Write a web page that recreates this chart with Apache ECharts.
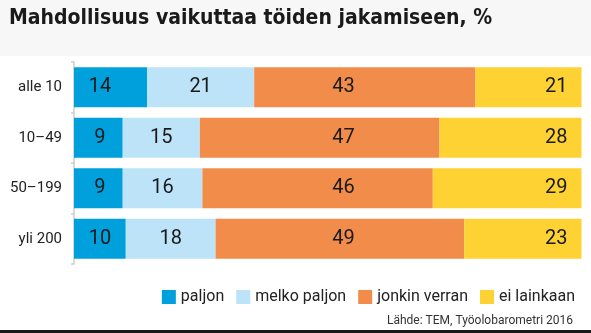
<!DOCTYPE html>
<html>
<head>
<meta charset="utf-8">
<script src="https://cdn.jsdelivr.net/npm/echarts@6/dist/echarts.min.js"></script>
<style>
  html, body { margin: 0; padding: 0; background: #ffffff; }
  #chart { width: 591px; height: 333px; }
</style>
</head>
<body>
<div id="chart"></div>
<script>
// ---- Data ----
const categories = ['alle 10', '10–49', '50–199', 'yli 200'];
const seriesNames = ['paljon', 'melko paljon', 'jonkin verran', 'ei lainkaan'];
// Bar lengths (share, %)
const paljon = [14.4, 9.6, 9.6, 10.2];
const melkoPaljon = [21.1, 15.2, 15.7, 17.7];
const jonkinVerran = [43.6, 47.2, 45.4, 49.0];
const eiLainkaan = [21.0, 28.1, 29.3, 23.2];
// Printed labels
const paljonLabels = [14, 9, 9, 10];
const melkoPaljonLabels = [21, 15, 16, 18];
const jonkinVerranLabels = [43, 47, 46, 49];
const eiLainkaanLabels = [21, 28, 29, 23];
const titleText = 'Mahdollisuus vaikuttaa töiden jakamiseen, %';
const sourceText = 'Lähde: TEM, Työolobarometri 2016';

// ---- Layout ----
const GRID_LEFT = 74, GRID_RIGHT = 9.5, W = 591;
const GRID_W = W - GRID_LEFT - GRID_RIGHT;
const colors = ['#00a0dc', '#bde3f8', '#f28c4a', '#fed232'];
const FONT = 'Roboto, "Liberation Sans", sans-serif';
// label anchor columns (fraction of axis) used by the original design
const BLUE_LABEL_FRAC = 0.051, ORANGE_LABEL_FRAC = 0.531;

const chart = echarts.init(document.getElementById('chart'), null, { renderer: 'canvas' });

const dataSets = [paljon, melkoPaljon, jonkinVerran, eiLainkaan];
const labelSets = [paljonLabels, melkoPaljonLabels, jonkinVerranLabels, eiLainkaanLabels];

function baseLabel(i) {
  return {
    show: true,
    color: '#1a1a1a',
    fontSize: 20,
    fontFamily: FONT,
    formatter: p => String(labelSets[i][p.dataIndex])
  };
}

const series = seriesNames.map((name, i) => {
  const label = baseLabel(i);
  let data = dataSets[i];
  if (i === 0) {
    label.position = [GRID_W * BLUE_LABEL_FRAC, '50%'];
    label.align = 'center';
    label.verticalAlign = 'middle';
  } else if (i === 1) {
    label.position = 'inside';
  } else if (i === 2) {
    data = dataSets[i].map((v, k) => {
      const start = (paljon[k] + melkoPaljon[k]) / 100 * GRID_W;
      return {
        value: v,
        label: { position: [GRID_W * ORANGE_LABEL_FRAC - start, '50%'], align: 'center', verticalAlign: 'middle' }
      };
    });
  } else {
    label.position = 'insideRight';
    label.distance = 14;
  }
  return {
    name,
    type: 'bar',
    stack: 'total',
    barWidth: 40,
    itemStyle: { color: colors[i] },
    label,
    emphasis: { disabled: true },
    data
  };
});

chart.setOption({
  animation: false,
  backgroundColor: '#ffffff',
  grid: { left: GRID_LEFT, right: GRID_RIGHT, top: 62, height: 202 },
  xAxis: { type: 'value', min: 0, max: 100, show: false },
  yAxis: {
    type: 'category',
    data: categories,
    inverse: true,
    offset: 2,
    axisLine: { show: true, lineStyle: { color: '#cccccc', width: 1.5 } },
    axisTick: { show: true, length: 3, lineStyle: { color: '#cccccc', width: 1.5 } },
    axisLabel: { color: '#222222', fontSize: 15, fontFamily: FONT, margin: 10 }
  },
  legend: {
    data: seriesNames,
    right: 11,
    top: 284,
    itemWidth: 14,
    itemHeight: 14,
    itemGap: 12,
    icon: 'rect',
    selectedMode: false,
    textStyle: { color: '#222222', fontSize: 16, fontFamily: FONT }
  },
  graphic: [
    { type: 'rect', left: 0, top: 0, shape: { width: W, height: 56 }, style: { fill: '#f7f7f7' }, z: -10 },
    { type: 'rect', left: 0, top: 330, shape: { width: W, height: 3 }, style: { fill: '#1a1a1a' } },
    { type: 'text', left: 9, top: 8, style: { text: titleText, fill: '#1a1a1a', font: 'bold 21px "Liberation Sans Narrow", "DejaVu Sans Condensed", sans-serif' } },
    { type: 'text', right: 18, top: 315, style: { text: sourceText, fill: '#333333', font: '12px ' + FONT } }
  ],
  series
});
</script>
</body>
</html>
